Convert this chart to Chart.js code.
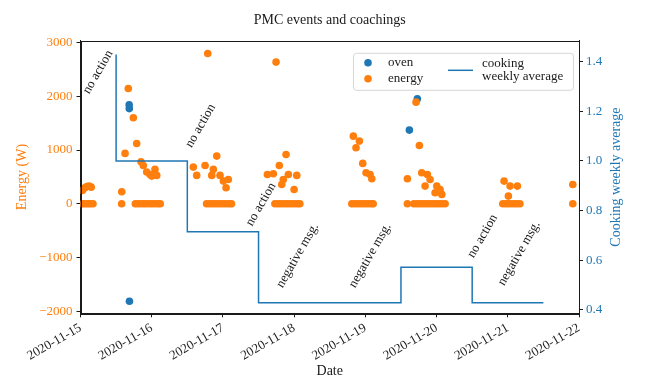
<!DOCTYPE html>
<html>
<head>
<meta charset="utf-8">
<title>PMC events and coachings</title>
<script src="https://cdn.jsdelivr.net/npm/chart.js@4/dist/chart.umd.min.js"></script>
<style>
  html, body { margin: 0; padding: 0; background: #fff; }
  #wrap { width: 645px; height: 378px; }
</style>
</head>
<body>
<div id="wrap"><canvas id="c" width="645" height="378"></canvas></div>
<script>
// ---- data ---------------------------------------------------------------
// Power-meter events (W), one entry per reading
const energyTimes = [
  // 15 Nov, night
  '2020-11-15 00:43', '2020-11-15 01:26', '2020-11-15 02:10', '2020-11-15 02:53', '2020-11-15 03:36',
  '2020-11-15 00:30', '2020-11-15 01:10', '2020-11-15 01:55', '2020-11-15 02:40', '2020-11-15 03:25', '2020-11-15 04:12',
  // 15 Nov, evening
  '2020-11-15 13:54', '2020-11-15 13:52', '2020-11-15 15:01', '2020-11-15 16:06', '2020-11-15 17:48',
  '2020-11-15 18:56', '2020-11-15 20:24', '2020-11-15 21:10', '2020-11-15 22:19', '2020-11-15 23:25',
  '2020-11-16 00:00', '2020-11-16 01:06', '2020-11-16 01:41',
  '2020-11-15 18:29', '2020-11-15 19:26', '2020-11-15 20:20', '2020-11-15 21:22', '2020-11-15 22:15',
  '2020-11-15 23:17', '2020-11-16 00:14', '2020-11-16 01:12', '2020-11-16 02:10', '2020-11-16 02:53',
  // 16 Nov
  '2020-11-16 18:53',
  '2020-11-16 14:01', '2020-11-16 15:10', '2020-11-16 17:59', '2020-11-16 21:55', '2020-11-16 20:46',
  '2020-11-16 20:14', '2020-11-16 23:01', '2020-11-17 00:09', '2020-11-17 01:49', '2020-11-17 01:03',
  '2020-11-16 18:29', '2020-11-16 19:26', '2020-11-16 20:24', '2020-11-16 21:22', '2020-11-16 22:19',
  '2020-11-16 23:17', '2020-11-17 00:14', '2020-11-17 01:12', '2020-11-17 02:10', '2020-11-17 02:53',
  // 17 Nov
  '2020-11-17 17:54', '2020-11-17 21:16', '2020-11-17 19:00', '2020-11-17 14:59', '2020-11-17 16:59',
  '2020-11-17 20:21', '2020-11-17 22:03', '2020-11-18 00:53', '2020-11-17 19:49', '2020-11-17 23:59',
  '2020-11-17 17:31', '2020-11-17 18:29', '2020-11-17 19:26', '2020-11-17 20:24', '2020-11-17 21:22',
  '2020-11-17 22:19', '2020-11-17 23:17', '2020-11-18 00:14', '2020-11-18 01:12', '2020-11-18 01:55',
  // 18 Nov
  '2020-11-18 19:57', '2020-11-18 21:59', '2020-11-18 20:51', '2020-11-18 23:07', '2020-11-19 00:14',
  '2020-11-19 01:35', '2020-11-19 02:10',
  '2020-11-18 19:26', '2020-11-18 20:24', '2020-11-18 21:22', '2020-11-18 22:19', '2020-11-18 23:17',
  '2020-11-19 00:14', '2020-11-19 01:12', '2020-11-19 02:10', '2020-11-19 02:38',
  // 19 Nov
  '2020-11-19 17:05', '2020-11-19 18:12', '2020-11-19 14:10', '2020-11-19 14:10', '2020-11-19 19:00',
  '2020-11-19 20:54', '2020-11-19 21:49', '2020-11-19 20:08', '2020-11-20 00:04', '2020-11-20 01:11',
  '2020-11-19 23:30', '2020-11-20 01:45',
  '2020-11-19 16:19', '2020-11-19 17:17', '2020-11-19 18:14', '2020-11-19 19:12', '2020-11-19 20:10',
  '2020-11-19 21:07', '2020-11-19 22:05', '2020-11-19 23:02', '2020-11-20 00:00', '2020-11-20 00:58',
  '2020-11-20 01:55', '2020-11-20 02:53',
  // 20 Nov
  '2020-11-20 22:45', '2020-11-21 00:46', '2020-11-21 03:14', '2020-11-21 00:12',
  '2020-11-20 22:19', '2020-11-20 23:17', '2020-11-21 00:14', '2020-11-21 01:12', '2020-11-21 02:10',
  '2020-11-21 03:07', '2020-11-21 04:05',
  // 21 Nov
  '2020-11-21 21:55', '2020-11-21 21:55'
];
const energyValues = [
  250, 300, 320, 330, 310,
  0, 0, 0, 0, 0, 0,
  225, 0, 937, 2143, 1600,
  1122, 782, 713, 590, 546,
  515, 640, 528,
  0, 0, 0, 0, 0,
  0, 0, 0, 0, 0,
  2795,
  682, 528, 713, 887, 640,
  528, 528, 422, 453, 300,
  0, 0, 0, 0, 0,
  0, 0, 0, 0, 0,
  2634, 918, 713, 546, 560,
  453, 546, 528, 360, 267,
  0, 0, 0, 0, 0,
  0, 0, 0, 0, 0,
  1258, 1166, 1043, 751, 578,
  546, 466,
  0, 0, 0, 0, 0,
  0, 0, 0, 0,
  1890, 1085, 466, 0, 578,
  546, 453, 329, 329, 267,
  206, 175,
  0, 0, 0, 0, 0,
  0, 0, 0, 0, 0,
  0, 0,
  422, 329, 329, 143,
  0, 0, 0, 0, 0,
  0, 0,
  360, 0
];

// Oven events (W)
const ovenTimes  = ['2020-11-15 16:24', '2020-11-15 16:27', '2020-11-15 16:30', '2020-11-19 14:50', '2020-11-19 17:31'];
const ovenValues = [1840, 1770, -1810, 1370, 1953];

// Cooking count, 7-day average, one value per day
const cookingDays = ['2020-11-15 12:00', '2020-11-16 12:00', '2020-11-17 12:00', '2020-11-18 12:00',
                     '2020-11-19 12:00', '2020-11-20 12:00', '2020-11-21 12:00'];
const cookingAverage = [1.4286, 1.0, 0.7143, 0.4286, 0.4286, 0.5714, 0.4286];

// Coaching messages sent to the household
const coachingTimes  = ['2020-11-15 05:54', '2020-11-16 16:26', '2020-11-17 12:50', '2020-11-18 01:09',
                        '2020-11-19 01:35', '2020-11-20 15:30', '2020-11-21 03:49'];
const coachingLabels = ['no action', 'no action', 'no action', 'negative msg.',
                        'negative msg.', 'no action', 'negative msg.'];
const coachingLevels = [2450, 1450, -10, -960, -960, -600, -920];   // height on the energy axis

// Axis ticks
const dateTicks    = ['2020-11-15', '2020-11-16', '2020-11-17', '2020-11-18',
                      '2020-11-19', '2020-11-20', '2020-11-21', '2020-11-22'];
const energyTicks  = [-2000, -1000, 0, 1000, 2000, 3000];
const cookingTicks = [0.4, 0.6, 0.8, 1.0, 1.2, 1.4];

// ---- helpers --------------------------------------------------------------
const toMs = s => Date.parse(s.length === 10 ? s + 'T00:00:00Z' : s.replace(' ', 'T') + ':00Z');
const fmtDate = v => new Date(v).toISOString().slice(0, 10);
const pts = (ts, vs) => ts.map((t, i) => ({ x: toMs(t), y: vs[i] }));

const SERIF = '"Liberation Serif", "DejaVu Serif", serif';
const ORANGE = '#ff7f0e';
const BLUE = '#1f77b4';
const INK = '#1a1a1a';

// ---- plugins ---------------------------------------------------------------
const frame = {
  id: 'frame',
  afterDraw(chart) {
    const { ctx, chartArea: a } = chart;
    ctx.save();
    ctx.strokeStyle = INK;
    ctx.lineWidth = 1;
    ctx.strokeRect(Math.round(a.left) + 0.5, Math.round(a.top) + 0.5,
                   Math.round(a.right - a.left) - 1, Math.round(a.bottom - a.top));
    ctx.restore();
  }
};

// Title and axis titles, centred on the plot area
const axisTitles = {
  id: 'axisTitles',
  afterDraw(chart) {
    const { ctx, chartArea: a } = chart;
    const midX = (a.left + a.right) / 2;
    const midY = (a.top + a.bottom) / 2;
    ctx.save();
    ctx.textAlign = 'center';
    ctx.textBaseline = 'middle';
    ctx.fillStyle = INK;
    ctx.font = '14px ' + SERIF;
    ctx.fillText('PMC events and coachings', midX, 20);
    // left
    ctx.save();
    ctx.translate(22, midY);
    ctx.rotate(-Math.PI / 2);
    ctx.fillStyle = ORANGE;
    ctx.fillText('Energy (W)', 0, 0);
    ctx.restore();
    // right
    ctx.save();
    ctx.translate(616, midY);
    ctx.rotate(-Math.PI / 2);
    ctx.fillStyle = BLUE;
    ctx.fillText('Cooking weekly average', 0, 0);
    ctx.restore();
    // bottom
    ctx.fillStyle = INK;
    ctx.fillText('Date', midX, 371);
    ctx.restore();
  }
};

const coachingNotes = {
  id: 'coachingNotes',
  afterDatasetsDraw(chart) {
    const { ctx } = chart;
    const xs = chart.scales.x, ys = chart.scales.y;
    ctx.save();
    ctx.font = '13px ' + SERIF;
    ctx.fillStyle = INK;
    ctx.textAlign = 'center';
    ctx.textBaseline = 'middle';
    coachingLabels.forEach((txt, i) => {
      ctx.save();
      ctx.translate(xs.getPixelForValue(toMs(coachingTimes[i])), ys.getPixelForValue(coachingLevels[i]));
      ctx.rotate(-Math.PI / 3);
      ctx.fillText(txt, 0, 0);
      ctx.restore();
    });
    ctx.restore();
  }
};

const legendBox = {
  id: 'legendBox',
  afterDraw(chart) {
    const { ctx, chartArea: a } = chart;
    const ds = chart.data.datasets;
    const x0 = a.right - 226, y0 = a.top + 12, w = 220, h = 37;
    ctx.save();
    ctx.fillStyle = 'rgba(255,255,255,0.85)';
    ctx.strokeStyle = '#d6d6d6';
    ctx.lineWidth = 1;
    ctx.beginPath();
    ctx.roundRect(x0 + 0.5, y0 + 0.5, w, h, 3);
    ctx.fill();
    ctx.stroke();

    ctx.font = '13px ' + SERIF;
    ctx.fillStyle = INK;
    ctx.textBaseline = 'middle';
    ctx.textAlign = 'left';
    // marker entries
    [[0, 10], [1, 26]].forEach(([k, dy]) => {
      ctx.fillStyle = ds[k].backgroundColor;
      ctx.beginPath();
      ctx.arc(x0 + 15, y0 + dy, 3.8, 0, Math.PI * 2);
      ctx.fill();
      ctx.fillStyle = INK;
      ctx.fillText(ds[k].label, x0 + 35, y0 + dy);
    });
    // line entry, label wrapped after the first word
    ctx.strokeStyle = ds[2].borderColor;
    ctx.lineWidth = 1.5;
    ctx.beginPath();
    ctx.moveTo(x0 + 95, y0 + 17.5);
    ctx.lineTo(x0 + 120, y0 + 17.5);
    ctx.stroke();
    const words = ds[2].label.split(' ');
    ctx.fillText(words[0], x0 + 129, y0 + 11);
    ctx.fillText(words.slice(1).join(' '), x0 + 129, y0 + 24);
    ctx.restore();
  }
};

// ---- chart -------------------------------------------------------------------
new Chart(document.getElementById('c'), {
  data: {
    datasets: [
      {
        type: 'scatter', label: 'oven', data: pts(ovenTimes, ovenValues), yAxisID: 'y',
        backgroundColor: BLUE, borderWidth: 0, pointRadius: 3.8, order: 2
      },
      {
        type: 'scatter', label: 'energy', data: pts(energyTimes, energyValues), yAxisID: 'y',
        backgroundColor: ORANGE, borderWidth: 0, pointRadius: 3.8, order: 1
      },
      {
        type: 'line', label: 'cooking weekly average', data: pts(cookingDays, cookingAverage), yAxisID: 'y2',
        borderColor: BLUE, borderWidth: 1.5, stepped: 'after', pointRadius: 0, fill: false, order: 0
      }
    ]
  },
  options: {
    responsive: false,
    animation: false,
    events: [],
    layout: { padding: { top: 40.8, left: 0, right: 0, bottom: 0 } },
    plugins: {
      legend: { display: false },
      tooltip: { enabled: false },
      title: { display: false }
    },
    scales: {
      x: {
        type: 'linear',
        min: toMs(dateTicks[0]),
        max: toMs(dateTicks[dateTicks.length - 1]),
        afterBuildTicks: s => { s.ticks = dateTicks.map(d => ({ value: toMs(d) })); },
        afterFit: s => { s.height = 64.7; },
        grid: { drawOnChartArea: false, tickLength: 4, color: INK },
        border: { display: true, color: INK },
        ticks: {
          autoSkip: false, minRotation: 30, maxRotation: 30, padding: 3,
          color: INK, font: { family: SERIF, size: 13 },
          callback: v => fmtDate(v)
        }
      },
      y: {
        position: 'left',
        min: -2035, max: 3030,
        afterBuildTicks: s => { s.ticks = energyTicks.map(v => ({ value: v })); },
        afterFit: s => { s.width = 80.5; },
        grid: { drawOnChartArea: false, tickLength: 4, color: INK },
        border: { display: true, color: INK },
        ticks: {
          padding: 4, color: ORANGE, font: { family: SERIF, size: 13 },
          callback: v => (v < 0 ? '\u2212' + Math.abs(v) : String(v))
        }
      },
      y2: {
        position: 'right',
        min: 0.386, max: 1.484,
        afterBuildTicks: s => { s.ticks = cookingTicks.map(v => ({ value: v })); },
        afterFit: s => { s.width = 66; },
        grid: { drawOnChartArea: false, tickLength: 4, color: INK },
        border: { display: true, color: INK },
        ticks: {
          padding: 3, color: BLUE, font: { family: SERIF, size: 13 },
          callback: v => v.toFixed(1)
        }
      }
    }
  },
  plugins: [frame, coachingNotes, legendBox, axisTitles]
});
</script>
</body>
</html>
